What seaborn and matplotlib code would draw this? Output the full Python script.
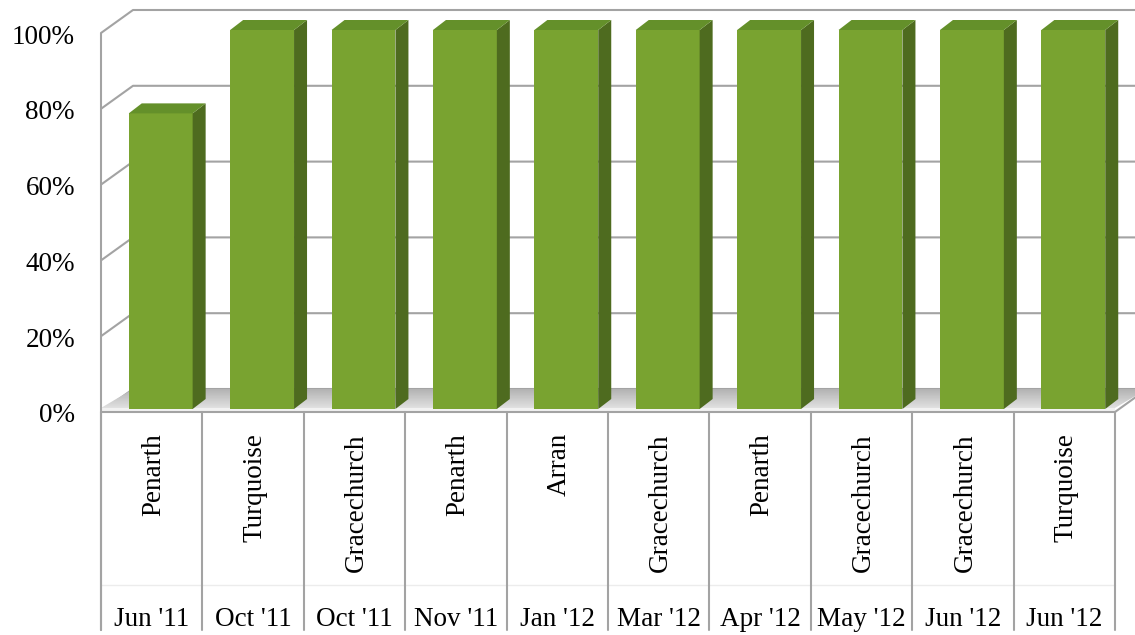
import matplotlib
matplotlib.use("Agg")
import matplotlib.pyplot as plt
from matplotlib.patches import Polygon
import seaborn as sns
import pandas as pd
import numpy as np

vessels = ['Penarth', 'Turquoise', 'Gracechurch', 'Penarth', 'Arran',
           'Gracechurch', 'Penarth', 'Gracechurch', 'Gracechurch', 'Turquoise']
months = ["Jun '11", "Oct '11", "Oct '11", "Nov '11", "Jan '12",
          "Mar '12", "Apr '12", "May '12", "Jun '12", "Jun '12"]
scores = [0.78, 1.0, 1.0, 1.0, 1.0, 1.0, 1.0, 1.0, 1.0, 1.0]
y_ticks = [0.0, 0.2, 0.4, 0.6, 0.8, 1.0]

FRONT = '#79a330'
SIDE = '#4e6b1f'
TOP = '#64902a'
GRID = '#a3a3a3'
FONT = ['Liberation Serif', 'DejaVu Serif']

sns.set_theme(style='white')
plt.rcParams['font.family'] = FONT

W, H = 1135, 635
fig = plt.figure(figsize=(W / 100, H / 100), dpi=100)
ax = fig.add_axes([0, 0, 1, 1])

# front plane in pixels: categories span x 101..1115, 0..100% spans y 412..33 (from top)
cat_px = (1115 - 101) / 10
unit_px = 412 - 33
sx = 1 / cat_px
sy = 1 / unit_px
XLIM = (-0.5 - 101 * sx, 9.5 + (W - 1115) * sx)
YLIM = (-(H - 412) * sy, 1 + 33 * sy)

# depth of the box (back wall offset)
bdx, bdy = 32 * sx, 23 * sy

# floor with a soft gradient and a thin front slab
floor = Polygon([(-0.5, 4 * sy), (9.5, 4 * sy), (9.5 + bdx, bdy), (-0.5 + bdx, bdy)],
                closed=True, facecolor='none', edgecolor='none', zorder=1)
ax.add_patch(floor)
grad = np.linspace(0.88, 0.70, 50).reshape(-1, 1)
img = ax.imshow(grad, cmap='gray', vmin=0, vmax=1, aspect='auto', origin='lower',
                extent=(-0.5, 9.5 + bdx, 4 * sy, bdy), zorder=1)
img.set_clip_path(floor)
slab = Polygon([(-0.5, 0), (9.5, 0), (9.5, 4 * sy), (-0.5, 4 * sy)],
               closed=True, facecolor='#f2f2f2', edgecolor='none', zorder=1)
ax.add_patch(slab)
ax.plot([-0.5, 9.5, 9.5 + bdx], [0, 0, bdy], color=GRID, lw=1.5, zorder=1.2)

# back wall gridlines and left wall diagonals
for v in y_ticks:
    ax.plot([-0.5, -0.5 + bdx, 9.5 + bdx + 1], [v, v + bdy, v + bdy],
            color=GRID, lw=1.5, zorder=0.5, solid_capstyle='butt')
    ax.text(-0.5 - 26 * sx, v - 4 * sy, f'{int(round(v * 100))}%',
            ha='right', va='center', fontsize=19.5, color='black')

# left edge of the box and category dividers
ax.plot([-0.5, -0.5], [1, -0.575], color=GRID, lw=1.5, zorder=2)
for i in range(11):
    ax.plot([i - 0.5, i - 0.5], [0, -0.575], color=GRID, lw=1.5, zorder=2)
ax.plot([-0.5, 9.5], [-(585 - 412) * sy] * 2, color='#ececec', lw=1, zorder=1.5)

# bars (front faces)
df = pd.DataFrame({'slot': range(len(scores)), 'score': scores})
sns.barplot(data=df, x='slot', y='score', color=FRONT, saturation=1,
            width=0.63, ax=ax, native_scale=True, zorder=3)
ax.set_xlim(*XLIM)
ax.set_ylim(*YLIM)
ax.axis('off')

ddx, ddy = 13 * sx, 10 * sy
bars = [p for p in ax.patches if p is not floor and p is not slab]
for p in bars:
    p.set_x(p.get_x() + 9 * sx)
    p.set_y(3 * sy)
    p.set_edgecolor('none')
    x0, y0, w, h = p.get_x(), p.get_y(), p.get_width(), p.get_height()
    side = Polygon([(x0 + w, y0), (x0 + w + ddx, y0 + ddy),
                    (x0 + w + ddx, y0 + h + ddy), (x0 + w, y0 + h)],
                   closed=True, facecolor=SIDE, edgecolor='none', zorder=3)
    top = Polygon([(x0, y0 + h), (x0 + w, y0 + h),
                   (x0 + w + ddx, y0 + h + ddy), (x0 + ddx, y0 + h + ddy)],
                  closed=True, facecolor=TOP, edgecolor='none', zorder=3)
    ax.add_patch(side)
    ax.add_patch(top)

# two-level category labels
for i, (name, month) in enumerate(zip(vessels, months)):
    ax.text(i + 2 * sx, -(433 - 412) * sy, name, rotation=90,
            ha='center', va='top', fontsize=19.5, color='black')
    ax.text(i, -(620 - 412) * sy, month,
            ha='center', va='center', fontsize=19.5, color='black')

fig.savefig('out.png', dpi=100)
